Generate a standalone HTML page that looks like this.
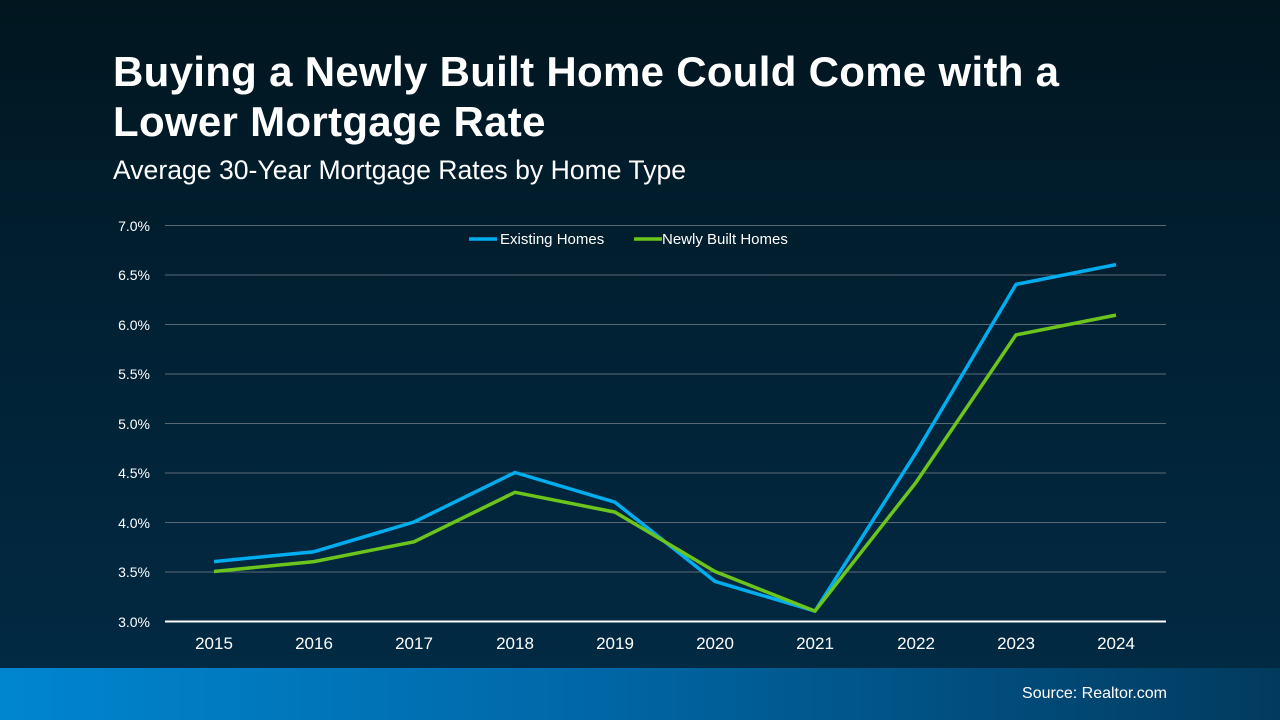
<!DOCTYPE html>
<html><head><meta charset="utf-8"><style>
html,body{margin:0;padding:0}
body{width:1280px;height:720px;overflow:hidden;position:relative;font-family:"Liberation Sans",sans-serif;background:linear-gradient(180deg,#01161f 0%,#012236 50%,#022b45 100%);color:#fff}
.t{position:absolute;left:113px;top:47px;font-size:42px;font-weight:bold;line-height:50px;letter-spacing:0.3px}
.s{position:absolute;left:113px;top:155px;font-size:26.6px}
.f{position:absolute;left:0;top:668px;width:1280px;height:52px;background:linear-gradient(90deg,#0086cf 0%,#0068a8 45%,#023a5e 100%)}
.f span{position:absolute;right:113px;top:17px;font-size:16px}
</style></head><body>
<div class="t">Buying a Newly Built Home Could Come with a<br>Lower Mortgage Rate</div>
<div class="s">Average 30-Year Mortgage Rates by Home Type</div>
<svg width="1280" height="720" style="position:absolute;left:0;top:0" font-family="Liberation Sans, sans-serif">
<g stroke="#5a6a75" stroke-width="1">
<line x1="165" x2="1166" y1="225.5" y2="225.5"/><line x1="165" x2="1166" y1="275" y2="275"/>
<line x1="165" x2="1166" y1="324.5" y2="324.5"/><line x1="165" x2="1166" y1="374" y2="374"/>
<line x1="165" x2="1166" y1="423.5" y2="423.5"/><line x1="165" x2="1166" y1="473" y2="473"/>
<line x1="165" x2="1166" y1="522.5" y2="522.5"/><line x1="165" x2="1166" y1="572" y2="572"/>
</g>
<line x1="165" x2="1166" y1="621.5" y2="621.5" stroke="#fff" stroke-width="2"/>
<g fill="#fff" font-size="14" text-anchor="end">
<text x="150" y="231">7.0%</text><text x="150" y="280">6.5%</text><text x="150" y="330">6.0%</text>
<text x="150" y="379">5.5%</text><text x="150" y="429">5.0%</text><text x="150" y="478">4.5%</text>
<text x="150" y="528">4.0%</text><text x="150" y="577">3.5%</text><text x="150" y="627">3.0%</text>
</g>
<g fill="#fff" font-size="17" text-anchor="middle">
<text x="214" y="649">2015</text><text x="314" y="649">2016</text><text x="414" y="649">2017</text>
<text x="515" y="649">2018</text><text x="615" y="649">2019</text><text x="715" y="649">2020</text>
<text x="815" y="649">2021</text><text x="916" y="649">2022</text><text x="1016" y="649">2023</text>
<text x="1116" y="649">2024</text>
</g>
<polyline fill="none" stroke="#00aeef" stroke-width="3.5" stroke-linejoin="round" points="214,561.6 314,551.7 414,522 515,472.5 615,502.2 715,581.4 815,611.1 916,452.7 1016,284.4 1116,264.6"/>
<polyline fill="none" stroke="#6cc51c" stroke-width="3.5" stroke-linejoin="round" points="214,571.5 314,561.6 414,541.8 515,492.3 615,512.1 715,571.5 815,611.1 916,482.4 1016,334.9 1116,315.1"/>
<line x1="469" x2="497" y1="239" y2="239" stroke="#00aeef" stroke-width="3.5"/>
<text x="500" y="244" fill="#fff" font-size="15">Existing Homes</text>
<line x1="634" x2="662" y1="239" y2="239" stroke="#6cc51c" stroke-width="3.5"/>
<text x="662" y="244" fill="#fff" font-size="15">Newly Built Homes</text>
</svg>
<div class="f"><span>Source: Realtor.com</span></div>
</body></html>
